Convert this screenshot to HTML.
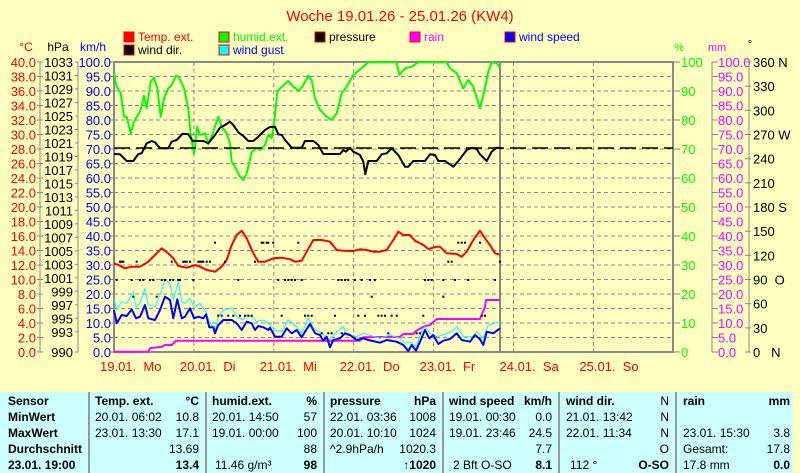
<!DOCTYPE html>
<html><head><meta charset="utf-8"><style>
body{margin:0;width:800px;height:473px;overflow:hidden;background:#ffffc0;font-family:"Liberation Sans",sans-serif}
svg{position:absolute;left:0;top:0}
#tbl{position:absolute;left:0;top:392px;width:793px;height:81px;background:#ccffff;font-size:12px;color:#000}
#tbl div{position:absolute;white-space:nowrap}
.sep{position:absolute;top:0;width:2px;height:81px;background:#999}
</style></head><body>
<svg id="s" width="800" height="392" font-family="Liberation Sans, sans-serif"></svg>
<div id="tbl"></div>
<script>
const s=document.getElementById('s');let h='';
const L=114,R=673,T=62,B=352,dy=14.5;
h+=`<text x="400" y="21" fill="#f00" font-size="15" text-anchor="middle">Woche 19.01.26 - 25.01.26 (KW4)</text>`;
const lg=[[124,38,'#f00','Temp. ext.','#f00'],[219,38,'#0f0','humid.ext.','#0f0'],[315,38,'#000','pressure','#000'],[410,38,'#f0f','rain','#f0f'],[505,38,'#00f','wind speed','#00f'],[124,51,'#000','wind dir.','#000'],[219,51,'#0ff','wind gust','#00f']];
lg.forEach(a=>{h+=`<rect x="${a[0]}" y="${a[1]-6}" width="10" height="10" fill="${a[2]}" stroke="#f00" stroke-width="1"/><text x="${a[0]+14}" y="${a[1]+3}" font-size="12" fill="${a[4]}">${a[3]}</text>`});
h+=`<text x="26" y="51" font-size="12" fill="#f00" text-anchor="middle">°C</text><text x="58" y="51" font-size="12" text-anchor="middle">hPa</text><text x="93" y="51" font-size="12" fill="#00f" text-anchor="middle">km/h</text>`;
h+=`<text x="679" y="51" font-size="11" fill="#0f0" text-anchor="middle">%</text><text x="717" y="51" font-size="11" fill="#f0f" text-anchor="middle">mm</text><text x="750" y="48" font-size="11" text-anchor="middle">°</text>`;
for(let k=1;k<20;k++){let y=T+k*dy;h+=`<line x1="${L}" y1="${y}" x2="${R}" y2="${y}" stroke="#888" stroke-dasharray="4,3"/>`}
for(let d=1;d<7;d++){let x=L+d*79.9;h+=`<line x1="${x}" y1="${T}" x2="${x}" y2="${B}" stroke="#888" stroke-dasharray="4,3"/>`}
h+=`<line x1="500" y1="${T}" x2="500" y2="${B}" stroke="#888" stroke-width="2"/>`;
h+=`<rect x="${L}" y="${T}" width="${R-L}" height="${B-T}" fill="none" stroke="#888" stroke-width="2"/>`;
h+=`<line x1="40" y1="${T}" x2="40" y2="${B}" stroke="#888"/><line x1="78" y1="${T}" x2="78" y2="${B}" stroke="#888"/>`;
const hp=[1033,1031,1029,1027,1025,1023,1021,1019,1017,1015,1013,1011,1009,1007,1005,1003,1001,999,997,995,993,990];
hp.forEach(v=>{let y=T+(1033-v)*(B-T)/43;h+=`<line x1="75" y1="${y}" x2="78" y2="${y}" stroke="#888"/><text x="73" y="${y+5}" font-size="13" text-anchor="end">${v}</text>`});
for(let k=0;k<=20;k++){let y=T+k*dy;
h+=`<line x1="37" y1="${y}" x2="43" y2="${y}" stroke="#888"/><line x1="110" y1="${y}" x2="114" y2="${y}" stroke="#888"/>`;
h+=`<text x="36" y="${y+5}" font-size="13" fill="#f00" text-anchor="end">${(40-2*k).toFixed(1)}</text>`;
h+=`<text x="111" y="${y+5}" font-size="13" fill="#00f" text-anchor="end">${(100-5*k).toFixed(1)}</text>`;
if(k%2==0)h+=`<line x1="673" y1="${y}" x2="680" y2="${y}" stroke="#888"/><text x="681" y="${y+5}" font-size="13" fill="#0f0">${100-5*k}</text>`;
h+=`<line x1="712" y1="${y}" x2="718" y2="${y}" stroke="#888"/><text x="718" y="${y+5}" font-size="13" fill="#f0f">${(100-5*k).toFixed(1)}</text>`;}
h+=`<line x1="712" y1="${T}" x2="712" y2="${B}" stroke="#888"/><line x1="749" y1="${T}" x2="749" y2="${B}" stroke="#888"/>`;
const dg=['360 N','330','300','270 W','240','210','180 S','150','120','90  O','60','30','0   N'];
dg.forEach((t,i)=>{let y=T+i*(B-T)/12;h+=`<line x1="745" y1="${y}" x2="751" y2="${y}" stroke="#888"/><text x="753" y="${y+5}" font-size="13" xml:space="preserve">${t}</text>`});
['19.01.  Mo','20.01.  Di','21.01.  Mi','22.01.  Do','23.01.  Fr','24.01.  Sa','25.01.  So'].forEach((t,i)=>{h+=`<text x="${L+i*79.9-14}" y="371" font-size="13" fill="#f00" xml:space="preserve">${t}</text>`});
function pl(pts,ox,oy,col,w){let p=[];for(let i=0;i<pts.length;i+=2)p.push((ox+pts[i]/3).toFixed(1)+','+(oy+pts[i+1]/3).toFixed(1));return `<polyline points="${p.join(' ')}" fill="none" stroke="${col}" stroke-width="${w}" stroke-linejoin="round"/>`}
const green=[42,55,50,95,62,115,72,185,80,185,92,235,102,200,122,165,132,122,140,160,152,80,162,68,172,100,182,185,192,130,205,100,215,90,228,62,236,65,252,100,265,160,272,240,282,297,292,215,300,240,315,235,325,268,340,230,355,185,365,215,380,235,390,265,395,320,410,345,420,365,430,375,440,355,455,290,470,280,480,285,495,270,505,240,515,250,525,180,532,110,545,95,565,78,580,95,597,108,610,90,625,62,635,75,645,130,660,165,680,185,695,195,710,175,725,115,740,95,760,60,790,35,805,22,890,22,898,60,915,40,935,35,955,22,1040,22,1050,40,1070,55,1090,100,1105,75,1120,95,1140,160,1155,100,1165,50,1175,22,1190,25,1200,38];
const pres=[42,297,60,298,80,318,100,318,115,297,125,295,140,265,155,258,165,262,180,280,205,280,215,260,230,255,248,236,265,238,278,258,310,258,325,265,345,240,360,218,375,210,390,200,400,210,415,232,430,243,445,258,460,258,475,245,495,225,510,216,525,215,535,238,545,240,555,255,575,278,605,278,615,258,640,258,655,270,670,297,720,297,730,285,738,290,750,278,760,290,780,300,790,320,796,358,805,318,830,318,845,298,860,295,875,280,895,300,915,335,925,335,940,318,975,318,990,298,1005,300,1015,318,1035,318,1060,335,1075,318,1085,305,1100,285,1115,278,1130,282,1140,298,1160,318,1175,290,1190,278,1205,280];
const red=[42,130,55,135,75,145,95,140,120,140,145,125,165,105,185,85,205,100,220,115,235,138,260,143,285,135,300,140,320,150,345,155,365,140,380,120,395,75,410,45,425,32,440,55,460,100,475,125,495,125,520,115,545,113,570,118,585,125,605,122,620,95,640,60,665,60,690,65,710,90,730,92,760,93,780,88,800,90,820,95,840,95,860,90,880,60,895,35,910,45,930,45,945,62,970,75,985,87,1010,80,1020,80,1040,100,1070,102,1085,110,1100,95,1120,60,1140,32,1155,55,1170,75,1185,100,1200,104];
const blue=[42,270,50,310,65,285,80,288,95,268,108,295,120,290,135,255,145,295,165,300,180,270,195,230,210,240,220,295,232,238,245,295,255,290,270,265,282,295,295,290,310,295,318,283,328,322,340,322,345,340,355,315,370,300,380,300,395,300,410,310,425,330,440,305,455,310,465,330,475,318,490,322,505,330,510,323,525,350,545,350,560,325,575,340,590,330,605,352,615,335,630,312,645,340,660,345,670,362,680,350,690,382,700,360,720,355,735,340,750,345,770,360,790,355,805,360,840,368,860,360,890,365,910,375,925,393,935,375,948,392,960,365,975,330,988,355,1000,345,1015,372,1030,362,1050,357,1070,340,1085,360,1110,365,1125,345,1140,358,1150,375,1160,335,1180,340,1200,325];
const gust=[42,235,50,270,65,245,80,250,100,215,108,260,120,250,135,205,145,255,165,260,180,225,195,180,210,190,220,240,235,185,245,245,255,250,270,235,282,262,300,250,310,265,318,275,328,305,345,330,355,290,370,270,395,265,410,290,430,300,440,285,455,290,470,305,490,300,505,310,525,330,545,335,565,300,590,320,605,340,625,295,645,330,660,335,690,360,705,340,730,320,740,345,770,350,790,340,840,355,870,345,900,355,915,370,930,365,950,380,965,330,975,320,990,340,1010,350,1030,345,1055,335,1070,320,1090,350,1120,350,1130,335,1150,355,1165,315,1200,305];
const rain=[42,395,145,395,150,385,185,380,195,375,215,375,228,362,780,362,790,352,900,350,910,342,940,342,948,333,970,320,990,315,1010,297,1140,297,1155,260,1158,240,1200,240];
h+=pl(rain,100,220,'#f0f',2);
h+=pl(gust,100,220,'#0ff',1);
h+=pl(blue,100,220,'#00f',2);
h+=pl(red,100,220,'#f00',2);
h+=pl(green,100,55,'#0f0',2);
h+=pl(pres,100,55,'#000',2);
h+=`<line x1="${L}" y1="148" x2="${R}" y2="148" stroke="#000" stroke-width="1.5" stroke-dasharray="16,6"/>`;
const dots=[[60,125],[65,125],[70,125],[110,125],[215,125],[250,125],[255,125],[260,125],[270,125],[295,125],[300,125],[305,125],[310,125],[320,125],[330,125],[375,125],[465,125],[1045,125],[1055,125],[1200,125],[345,68],[485,68],[490,68],[500,68],[505,68],[520,68],[595,68],[1075,68],[1085,68],[1095,68],[1140,68],[50,180],[95,180],[120,180],[130,180],[150,180],[160,180],[185,180],[195,180],[210,180],[220,180],[235,180],[240,180],[280,180],[415,180],[535,180],[555,180],[565,180],[575,180],[585,180],[605,180],[715,180],[725,180],[735,180],[745,180],[765,180],[785,180],[810,180],[825,180],[975,180],[985,180],[995,180],[1030,180],[1065,180],[1105,180],[1185,180],[100,230],[170,230],[815,230],[1030,230],[355,287],[365,287],[385,287],[400,287],[420,287],[435,287],[445,287],[455,287],[545,287],[615,287],[625,287],[635,287],[705,287],[775,287],[795,287],[835,287],[845,287],[855,287],[875,287],[890,287],[970,287],[1145,287],[1155,287],[665,340],[685,340],[695,340],[725,340],[865,340],[950,340],[960,340]];
dots.forEach(d=>{h+=`<rect x="${(100+d[0]/3-1).toFixed(1)}" y="${(220+d[1]/3-1).toFixed(1)}" width="2" height="2" fill="#000"/>`});
s.innerHTML=h;
const t=document.getElementById('tbl');let g='';
[88,205,323,442,558,675].forEach(x=>g+=`<div class="sep" style="left:${x}px"></div>`);
const rows=[14,30,46,62,78];
function c(x,r,txt,opt){opt=opt||'';g+=`<div style="${opt.includes('r')?'right:'+(793-x):'left:'+x}px;top:${rows[r]-12}px;${opt.includes('b')?'font-weight:bold;':''}">${txt}</div>`}
['Sensor','MinWert','MaxWert','Durchschnitt','23.01. 19:00'].forEach((v,i)=>c(8,i,v,'b'));
c(95,0,'Temp. ext.','b');c(199,0,'°C','rb');c(95,1,'20.01.  06:02');c(199,1,'10.8','r');c(95,2,'23.01.  13:30');c(199,2,'17.1','r');c(199,3,'13.69','r');c(199,4,'13.4','rb');
c(212,0,'humid.ext.','b');c(317,0,'%','rb');c(212,1,'20.01.  14:50');c(317,1,'57','r');c(212,2,'19.01.  00:00');c(317,2,'100','r');c(317,3,'88','r');c(215,4,'11.46 g/m³');c(317,4,'98','rb');
c(330,0,'pressure','b');c(436,0,'hPa','rb');c(330,1,'22.01.  03:36');c(436,1,'1008','r');c(330,2,'20.01.  10:10');c(436,2,'1024','r');c(330,3,'^2.9hPa/h');c(436,3,'1020.3','r');c(436,4,'↑1020','rb');
c(449,0,'wind speed','b');c(552,0,'km/h','rb');c(449,1,'19.01.  00:30');c(552,1,'0.0','r');c(449,2,'19.01.  23:46');c(552,2,'24.5','r');c(552,3,'7.7','r');c(453,4,'2 Bft O-SO');c(552,4,'8.1','rb');
c(566,0,'wind dir.','b');c(669,0,'N','r');c(566,1,'21.01.  13:42');c(669,1,'N','r');c(566,2,'22.01.  11:34');c(669,2,'N','r');c(669,3,'O','r');c(570,4,'112 °');c(669,4,'O-SO','rb');
c(683,0,'rain','b');c(790,0,'mm','rb');c(683,2,'23.01.  15:30');c(790,2,'3.8','r');c(683,3,'Gesamt:');c(790,3,'17.8','r');c(683,4,'17.8 mm');c(790,4,'0.0','rb');
t.innerHTML=g;
</script>
</body></html>
